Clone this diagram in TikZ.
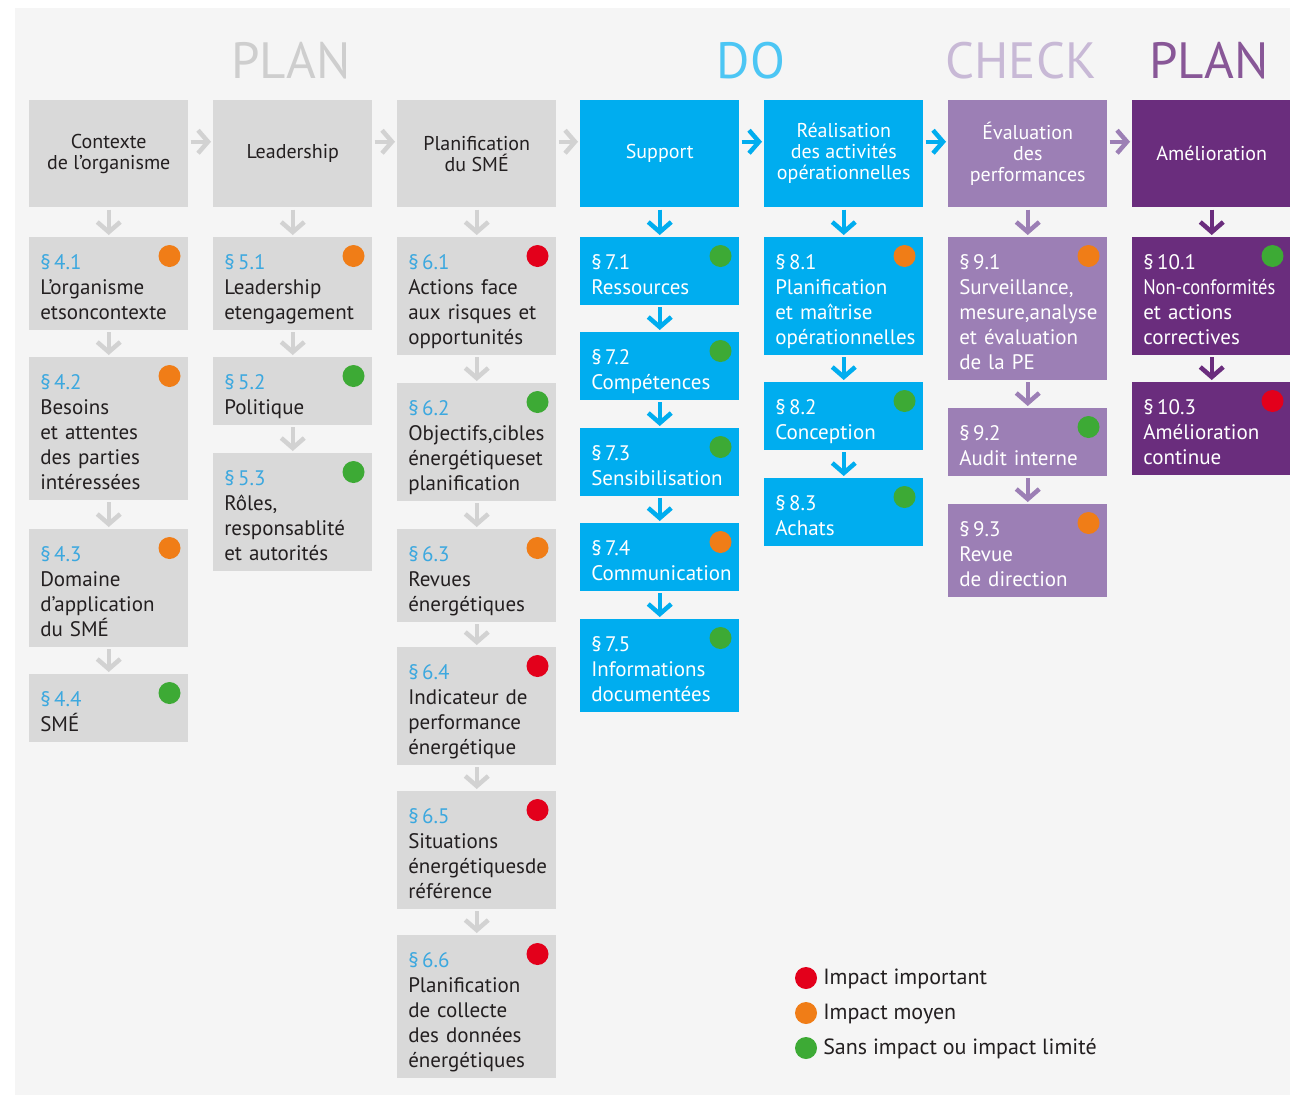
\documentclass[tikz,border=0pt]{standalone}
\usepackage{fontspec}
\setmainfont{PT Sans}
\usepackage{tikz}
\usetikzlibrary{arrows.meta}

\definecolor{panel}{HTML}{F5F5F5}
\definecolor{graybox}{HTML}{D9D9D9}
\definecolor{grayarr}{HTML}{D2D2D2}
\definecolor{doblue}{HTML}{00ADEF}
\definecolor{chkpurple}{HTML}{9C7FB5}
\definecolor{actpurple}{HTML}{6A2D7D}
\definecolor{secblue}{HTML}{3CA8DF}
\definecolor{txtdark}{HTML}{231F20}
\definecolor{impred}{HTML}{E3001B}
\definecolor{impmid}{HTML}{F07D17}
\definecolor{implow}{HTML}{3DAA35}

\newcommand{\itemfont}{\fontsize{21}{25}\selectfont}
\newcommand{\hdrfont}{\fontsize{20}{21}\selectfont}

\tikzset{
  >={Straight Barb[length=10pt,width=23pt]},
  hdr/.style={rectangle, anchor=north west, minimum width=159pt, minimum height=107pt,
    inner sep=0pt, align=center, font=\hdrfont},
  item/.style={rectangle, anchor=north west, text width=137pt, align=left,
    inner xsep=11pt, inner ysep=3pt, text height=29pt, font=\itemfont,
    execute at end node=\strut},
  planbox/.style={fill=graybox, text=txtdark},
  dobox/.style={fill=doblue, text=white},
  chkbox/.style={fill=chkpurple, text=white},
  actbox/.style={fill=actpurple, text=white},
  phase/.style={font=\fontsize{51}{56}\selectfont, inner sep=0pt},
  legend/.style={anchor=west, inner sep=0pt, text=txtdark, font=\fontsize{22}{26}\selectfont}
}

\begin{document}
\begin{tikzpicture}[x=1pt, y=-1pt, line width=4.5pt]
    \useasboundingbox (0,0) rectangle (1290,1095);
    \fill[white] (0,0) rectangle (1290,1095);
    \fill[panel] (15,8) rectangle (1290,1095);

    %phases
    \node[phase, text=graybox!95!black] (tplan) at (291,61) {PLAN};
    \node[phase, text=doblue!70!white] (tdo) at (751,61) {DO};
    \node[phase, text=chkpurple!55!white] (tcheck) at (1021,61) {CHECK};
    \node[phase, text=actpurple!80!white] (tact) at (1209,61) {PLAN};

    %headers
    \node[hdr, planbox] (h1) at (27,98) {Contexte\\de l’organisme};
    \node[hdr, planbox] (h2) at (211,98) {Leadership};
    \node[hdr, planbox] (h3) at (395,98) {Planification\\du SMÉ};
    \node[hdr, dobox] (h4) at (578,98) {Support};
    \node[hdr, dobox] (h5) at (762,98) {Réalisation\\des activités\\opérationnelles};
    \node[hdr, chkbox] (h6) at (946,98) {Évaluation\\des\\performances};
    \node[hdr, actbox] (h7) at (1130,98) {Amélioration};

    %clauses 4
    \node[item, planbox] (s41) at (27,235) {\textcolor{secblue}{§\,4.1}\\L’organisme\\etsoncontexte};
    \node[item, planbox] (s42) at (27,355) {\textcolor{secblue}{§\,4.2}\\Besoins\\et attentes\\des parties\\intéressées};
    \node[item, planbox] (s43) at (27,527) {\textcolor{secblue}{§\,4.3}\\Domaine\\d’application\\du SMÉ};
    \node[item, planbox] (s44) at (27,672) {\textcolor{secblue}{§\,4.4}\\SMÉ};
    %clauses 5
    \node[item, planbox] (s51) at (211,235) {\textcolor{secblue}{§\,5.1}\\Leadership\\etengagement};
    \node[item, planbox] (s52) at (211,355) {\textcolor{secblue}{§\,5.2}\\Politique};
    \node[item, planbox] (s53) at (211,451) {\textcolor{secblue}{§\,5.3}\\Rôles,\\responsablité\\et autorités};
    %clauses 6
    \node[item, planbox] (s61) at (395,235) {\textcolor{secblue}{§\,6.1}\\Actions face\\aux risques et\\opportunités};
    \node[item, planbox] (s62) at (395,381) {\textcolor{secblue}{§\,6.2}\\Objectifs,cibles\\énergétiqueset\\planification};
    \node[item, planbox] (s63) at (395,527) {\textcolor{secblue}{§\,6.3}\\Revues\\énergétiques};
    \node[item, planbox] (s64) at (395,645) {\textcolor{secblue}{§\,6.4}\\Indicateur de\\performance\\énergétique};
    \node[item, planbox] (s65) at (395,789) {\textcolor{secblue}{§\,6.5}\\Situations\\énergétiquesde\\référence};
    \node[item, planbox] (s66) at (395,933) {\textcolor{secblue}{§\,6.6}\\Planification\\de collecte\\des données\\énergétiques};
    %clauses 7
    \node[item, dobox] (s71) at (578,235) {§\,7.1\\Ressources};
    \node[item, dobox] (s72) at (578,330) {§\,7.2\\Compétences};
    \node[item, dobox] (s73) at (578,426) {§\,7.3\\Sensibilisation};
    \node[item, dobox] (s74) at (578,521) {§\,7.4\\Communication};
    \node[item, dobox] (s75) at (578,617) {§\,7.5\\Informations\\documentées};
    %clauses 8
    \node[item, dobox] (s81) at (762,235) {§\,8.1\\Planification\\et maîtrise\\opérationnelles};
    \node[item, dobox] (s82) at (762,380) {§\,8.2\\Conception};
    \node[item, dobox] (s83) at (762,476) {§\,8.3\\Achats};
    %clauses 9
    \node[item, chkbox] (s91) at (946,235) {§\,9.1\\Surveillance,\\mesure,analyse\\et évaluation\\de la PE};
    \node[item, chkbox] (s92) at (946,406) {§\,9.2\\Audit interne};
    \node[item, chkbox] (s93) at (946,502) {§\,9.3\\Revue\\de direction};
    %clauses 10
    \node[item, actbox] (s101) at (1130,235) {§\,10.1\\\scalebox{0.88}[1]{Non-conformités}\\et actions\\correctives};
    \node[item, actbox] (s103) at (1130,380) {§\,10.3\\Amélioration\\continue};

    %impact dots
    \foreach \n/\c in {s41/impmid, s42/impmid, s43/impmid, s44/implow,
        s51/impmid, s52/implow, s53/implow,
        s61/impred, s62/implow, s63/impmid, s64/impred, s65/impred, s66/impred,
        s71/implow, s72/implow, s73/implow, s74/impmid, s75/implow,
        s81/impmid, s82/implow, s83/implow,
        s91/impmid, s92/implow, s93/impmid,
        s101/implow, s103/impred}
      \fill[\c] (\n.north east) ++(-21,21) circle (11pt);

    %edges
    \path[->, color=grayarr]
     ([yshift=12pt]h1.east) edge ([yshift=12pt]h2.west)
     ([yshift=12pt]h2.east) edge ([yshift=12pt]h3.west)
     ([yshift=12pt]h3.east) edge ([yshift=12pt]h4.west)
     (h1) edge (s41) (s41) edge (s42) (s42) edge (s43) (s43) edge (s44)
     (h2) edge (s51) (s51) edge (s52) (s52) edge (s53)
     (h3) edge (s61) (s61) edge (s62) (s62) edge (s63)
     (s63) edge (s64) (s64) edge (s65) (s65) edge (s66);
    \path[->, color=doblue]
     ([yshift=12pt]h4.east) edge ([yshift=12pt]h5.west)
     ([yshift=12pt]h5.east) edge ([yshift=12pt]h6.west)
     (h4) edge (s71) (s71) edge (s72) (s72) edge (s73)
     (s73) edge (s74) (s74) edge (s75)
     (h5) edge (s81) (s81) edge (s82) (s82) edge (s83);
    \path[->, color=chkpurple]
     ([yshift=12pt]h6.east) edge ([yshift=12pt]h7.west)
     (h6) edge (s91) (s91) edge (s92) (s92) edge (s93);
    \path[->, color=actpurple]
     (h7) edge (s101) (s101) edge (s103);

    %legend
    \fill[impred] (806,978) circle (11pt);
    \fill[impmid] (806,1013) circle (11pt);
    \fill[implow] (806,1048) circle (11pt);
    \node[legend] (l1) at (821,979) {Impact important};
    \node[legend] (l2) at (821,1014) {Impact moyen};
    \node[legend] (l3) at (821,1049) {Sans impact ou impact limité};
\end{tikzpicture}
\end{document}
